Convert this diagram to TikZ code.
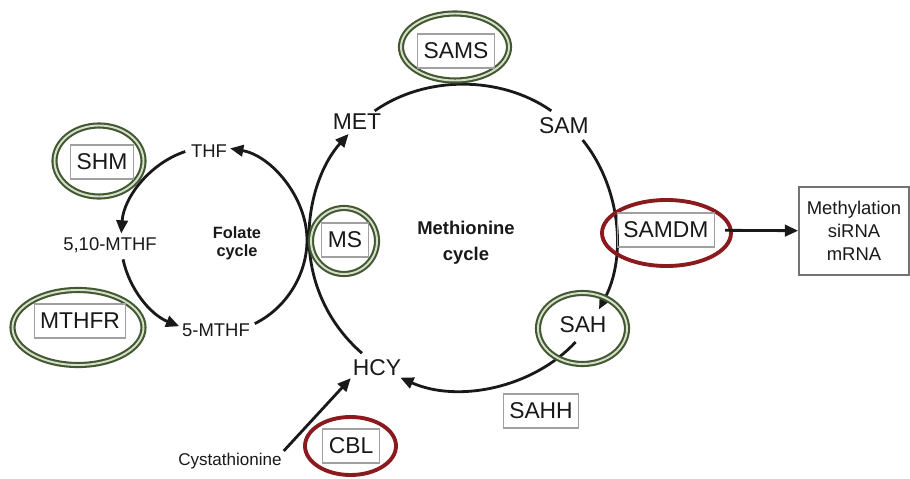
\documentclass[tikz,border=0pt]{standalone}
\usepackage{fontspec}
\setmainfont{Liberation Sans}
\usetikzlibrary{arrows.meta}

\definecolor{ringgreen}{RGB}{66,88,48}
\definecolor{ringgap}{RGB}{214,222,204}
\definecolor{ringred}{RGB}{138,26,30}
\definecolor{boxgray}{RGB}{160,160,160}
\definecolor{ink}{RGB}{25,25,25}

\tikzset{
  flow/.style={line width=1.6pt, draw=ink, looseness=0.9},
  flowto/.style={flow, -{Triangle[length=7.5pt,width=6.5pt]}},
  greenring/.style={draw=ringgreen, line width=1.2pt, double=ringgap, double distance=1.1pt},
  redring/.style={draw=ringred, line width=2.2pt},
  enzyme/.style={draw=boxgray, line width=0.6pt, inner xsep=0.12cm, inner ysep=0pt, minimum height=0.68cm, text=ink, font=\fontsize{13}{15}\selectfont},
  metab/.style={inner sep=1pt, text=ink, font=\fontsize{13}{15}\selectfont},
  folab/.style={inner sep=1pt, text=ink, font=\fontsize{10.5}{13}\selectfont}
}

\begin{document}
\begin{tikzpicture}[scale=1]
\useasboundingbox[fill=white] (0,0) rectangle (18.2,-9.58);

% centres of the two cycles
\coordinate (mc) at (9.26,-4.74);
\coordinate (fc) at (4.28,-4.80);

% points on the methionine cycle
\path (mc) ++(180:3.08) coordinate (mMS)
      (mc) ++(138:3.08) coordinate (mMET)
      (mc) ++(125:3.08) coordinate (mMETb)
      (mc) ++(55:3.08) coordinate (mSAM)
      (mc) ++(39:3.08) coordinate (mSAMb)
      (mc) ++(-28:3.08) coordinate (mSAH)
      (mc) ++(-43:3.08) coordinate (mSAHb)
      (mc) ++(-114:3.08) coordinate (mHCY)
      (mc) ++(-131:3.08) coordinate (mHCYb);

% points on the folate cycle
\path (fc) ++(0:1.86) coordinate (fMS)
      (fc) ++(80:1.86) coordinate (fTHF)
      (fc) ++(108:1.86) coordinate (fTHFb)
      (fc) ++(176:1.86) coordinate (fM10)
      (fc) ++(192:1.86) coordinate (fM10b)
      (fc) ++(248:1.86) coordinate (fM5)
      (fc) ++(296:1.86) coordinate (fM5b);

\draw[flowto] (mMS) to[bend left=21] (mMET);
\draw[flow] (mMETb) to[bend left=35] (mSAM);
\draw[flowto] (mSAMb) to[bend left=33.5] (mSAH);
\draw[flowto] (mSAHb) to[bend left=35.5] (mHCY);
\draw[flow] (mHCYb) to[bend left=24.5] (mMS);

\draw[flowto] (fMS) to[bend right=40] (fTHF);
\draw[flowto] (fTHFb) to[bend right=34] (fM10);
\draw[flowto] (fM10b) to[bend right=28] (fM5);
\draw[flow] (fM5b) to[bend right=32] (fMS);

% rings round the enzymes
\draw[greenring, fill=white] (9.10,-0.94) ellipse [x radius=1.08, y radius=0.67];
\draw[greenring] (1.98,-3.22) ellipse [x radius=0.89, y radius=0.71];
\draw[greenring] (1.56,-6.55) ellipse [x radius=1.31, y radius=0.75];
\draw[greenring] (6.88,-4.82) ellipse [x radius=0.66, y radius=0.66];
\draw[greenring] (11.65,-6.57) ellipse [x radius=0.89, y radius=0.71];
\draw[redring] (13.33,-4.66) ellipse [x radius=1.29, y radius=0.66];
\draw[redring] (7.01,-8.92) ellipse [x radius=0.91, y radius=0.58];

\node[enzyme] (SAMS) at (9.12,-1.02) {SAMS};
\node[enzyme] (SHM) at (2.04,-3.24) {SHM};
\node[enzyme] (MTHFR) at (1.60,-6.42) {MTHFR};
\node[enzyme] (MS) at (6.90,-4.80) {MS};
\node[enzyme] (SAMDM) at (13.32,-4.60) {SAMDM};
\node[enzyme] (CBL) at (7.02,-8.92) {CBL};
\node[enzyme] (SAHH) at (10.82,-8.22) {SAHH};

\node[metab] (MET) at (7.14,-2.44) {MET};
\node[metab] (SAM) at (11.28,-2.52) {SAM};
\node[metab] (SAH) at (11.66,-6.50) {SAH};
\node[metab] (HCY) at (7.54,-7.36) {HCY};
\node[folab] (THF) at (4.18,-3.02) {THF};
\node[folab] (M10) at (2.20,-4.90) {5,10-MTHF};
\node[folab] (M5) at (4.32,-6.60) {5-MTHF};
\node[inner sep=1pt, text=ink, font=\fontsize{9.7}{11}\selectfont] (cysta) at (4.60,-9.22) {Cystathionine};

\node[align=center, text=ink, font=\bfseries\fontsize{9.3}{10}\selectfont] (folate) at (4.74,-4.86) {Folate\\cycle};
\node[align=center, text=ink, font=\bfseries\fontsize{10.5}{14.8}\selectfont] (methio) at (9.32,-4.86) {Methionine\\cycle};

\node[draw=gray!90!black, line width=1pt, minimum width=2.2cm, minimum height=1.76cm, align=center, text=ink, font=\fontsize{10.5}{13}\selectfont] (methyl) at (17.08,-4.62) {Methylation\\siRNA\\mRNA};

\draw[flowto, shorten <=0.2cm] (SAMDM) -- (methyl);
\draw[flowto] (cysta.north east) -- (HCY.south west);

\end{tikzpicture}
\end{document}
